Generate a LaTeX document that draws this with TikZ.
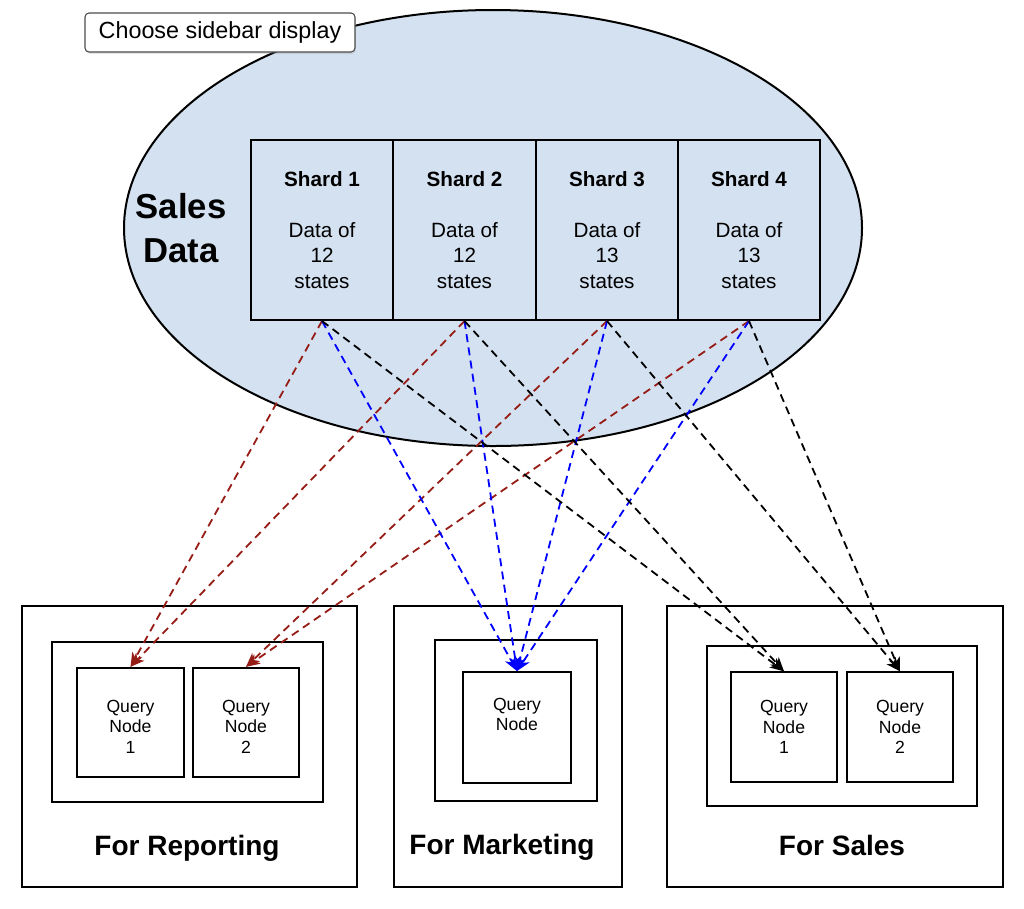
\documentclass[tikz,border=0pt]{standalone}
\usepackage{fontspec}
\setmainfont{Liberation Sans}
\usetikzlibrary{arrows.meta,shadows,shapes.geometric}
\definecolor{ellfill}{RGB}{212,225,240}
\definecolor{darkred}{RGB}{150,28,22}
\definecolor{arrblue}{RGB}{0,0,255}
\begin{document}
\begin{tikzpicture}[x=0.75pt,y=-0.75pt,
  box/.style={draw=black,line width=1.5pt,rectangle,inner sep=0pt},
  shardbox/.style={box,minimum width=106.6pt,minimum height=135pt,align=center,font=\fontsize{15.5}{19.1}\selectfont},
  qnode/.style={box,minimum width=80pt,minimum height=82pt,align=center,font=\fontsize{13.2}{15.4}\selectfont},
  grouplabel/.style={font=\fontsize{21}{25}\selectfont\bfseries,anchor=base},
  link/.style={line width=1.35pt,dash pattern=on 6pt off 4pt,-{Stealth[length=10.5pt,width=8.5pt,inset=3pt]}},
  ]
\useasboundingbox (0,0) rectangle (1024,908);

% Sales data ellipse
\node[ellipse,draw=black,line width=1.5pt,fill=ellfill,minimum width=553.5pt,minimum height=327pt,inner sep=0pt] (sales) at (493,228) {};
\node[font=\fontsize{26}{33}\selectfont\bfseries,align=center] (salesdata) at (181,228) {Sales\\Data};

% Shards
\node[shardbox] (s1) at (322,230) {\textbf{Shard 1}\\\strut\\Data of\\12\\states};
\node[shardbox] (s2) at (464.5,230) {\textbf{Shard 2}\\\strut\\Data of\\12\\states};
\node[shardbox] (s3) at (607,230) {\textbf{Shard 3}\\\strut\\Data of\\13\\states};
\node[shardbox] (s4) at (749,230) {\textbf{Shard 4}\\\strut\\Data of\\13\\states};

% Sidebar button
\node[draw=black!70,rounded corners=3pt,fill=white,line width=0.8pt,minimum width=202.5pt,minimum height=29.25pt,inner sep=0pt,font=\fontsize{17.5}{20}\selectfont,drop shadow={opacity=0.2,shadow xshift=0.6pt,shadow yshift=-1.5pt}] (sidebar) at (220,32.5) {Choose sidebar display};

% For Reporting
\node[box,minimum width=251.25pt,minimum height=210.75pt] (rep) at (189.5,746.5) {};
\node[box,minimum width=203.25pt,minimum height=120pt] (repin) at (187.5,722) {};
\node[qnode] (r1) at (130.5,722.5) {\strut\\[-11pt]Query\\Node\\1};
\node[qnode] (r2) at (246,722.5) {\strut\\[-11pt]Query\\Node\\2};
\node[grouplabel] (replabel) at (187,855) {For Reporting};

% For Marketing
\node[box,minimum width=171pt,minimum height=210.75pt] (mkt) at (508,746.5) {};
\node[box,minimum width=121.5pt,minimum height=120.75pt] (mktin) at (516,720.5) {};
\node[qnode,minimum width=81pt,minimum height=83.25pt] (m1) at (517,727.5) {Query\\Node\\\strut};
\node[grouplabel] (mktlabel) at (502,854) {For Marketing};

% For Sales
\node[box,minimum width=252pt,minimum height=210.75pt] (sal) at (835,746.5) {};
\node[box,minimum width=202.5pt,minimum height=120pt] (salin) at (842,726) {};
\node[qnode] (q1) at (784,727) {Query\\Node\\1};
\node[qnode] (q2) at (900,727) {Query\\Node\\2};
\node[grouplabel] (sallabel) at (842,855) {For Sales};

% Connectors
\draw[link,darkred] (s1.south) -- (r1.north);
\draw[link,darkred] (s2.south) -- (r1.north);
\draw[link,darkred] (s3.south) -- (r2.north);
\draw[link,darkred] (s4.south) -- (r2.north);

\draw[link,arrblue] (s1.south) -- (m1.north);
\draw[link,arrblue] (s2.south) -- (m1.north);
\draw[link,arrblue] (s3.south) -- (m1.north);
\draw[link,arrblue] (s4.south) -- (m1.north);

\draw[link,black] (s1.south) -- (q1.north);
\draw[link,black] (s2.south) -- (q1.north);
\draw[link,black] (s3.south) -- (q2.north);
\draw[link,black] (s4.south) -- (q2.north);
\end{tikzpicture}
\end{document}
